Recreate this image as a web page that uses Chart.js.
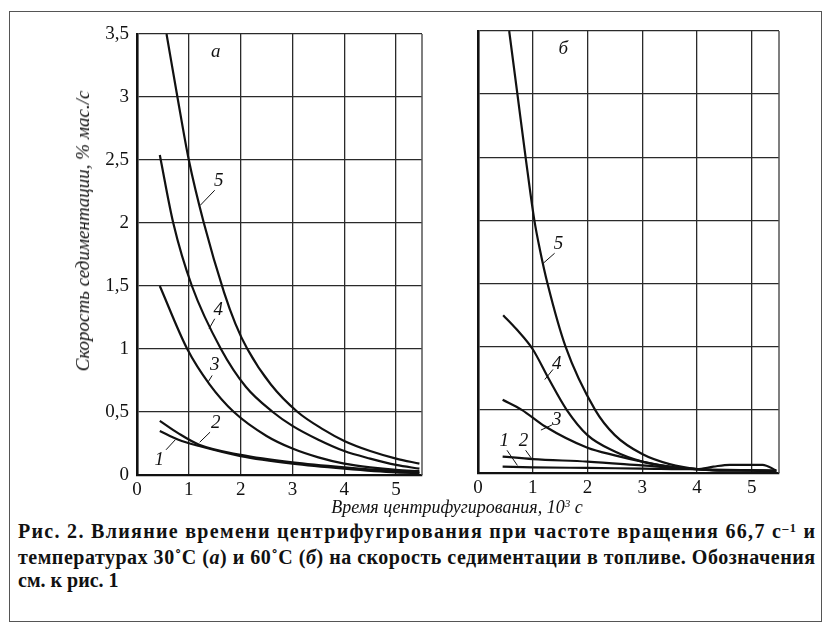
<!DOCTYPE html>
<html>
<head>
<meta charset="utf-8">
<script src="https://cdn.jsdelivr.net/npm/chart.js@4.4.0/dist/chart.umd.min.js"></script>
<style>
  body { margin: 0; width: 830px; height: 625px; background: #fff; position: relative; overflow: hidden; font-family: "Liberation Serif", serif; color: #111; }
  #frame { position: absolute; left: 9px; top: 11px; width: 813px; height: 611px; border: 1.5px solid #555; box-sizing: border-box; }
  .wrap { position: absolute; top: 0; height: 500px; }
  #wrapA { left: 0; width: 450px; }
  #wrapB { left: 450px; width: 380px; }
  #ytitle { position: absolute; left: 83px; top: 231px; transform: translate(-50%, -50%) rotate(-90deg); white-space: nowrap; font-style: italic; font-size: 19px; }
  #xtitle { position: absolute; left: 457px; top: 507px; transform: translate(-50%, -50%); white-space: nowrap; font-style: italic; font-size: 18px; }
  #caption { position: absolute; left: 18px; top: 520px; width: 797px; font-weight: bold; font-size: 20px; line-height: 23px; }
  #caption div { white-space: nowrap; }
  sup { font-size: 0.62em; vertical-align: baseline; position: relative; top: -0.5em; }
</style>
</head>
<body>
<div id="frame"></div>
<div class="wrap" id="wrapA"><canvas id="chartA"></canvas></div>
<div class="wrap" id="wrapB"><canvas id="chartB"></canvas></div>
<div id="ytitle">Скорость седиментации, % мас./с</div>
<div id="xtitle">Время центрифугирования, 10<sup>3</sup> с</div>
<div id="caption">
  <div class="fit"><span>Рис. 2. Влияние времени центрифугирования при частоте вращения 66,7 с<sup>–1</sup> и</span></div>
  <div class="fit"><span>температурах 30˚С (<i>а</i>) и 60˚С (<i>б</i>) на скорость седиментации в топливе. Обозначения</span></div>
  <div><span>см. к рис. 1</span></div>
</div>
<script>
// Панель а (30 °C): время, 10^3 с и скорость, % мас./с
const a5x = [0.57, 0.78, 1.0, 1.29, 1.68, 1.9, 2.13, 2.58, 3.1, 3.6, 4.0, 4.5, 5.0, 5.45];
const a5y = [3.5, 3.0, 2.5, 2.0, 1.45, 1.2, 1.0, 0.72, 0.5, 0.36, 0.27, 0.19, 0.13, 0.09];
const a4x = [0.44, 0.7, 1.06, 1.62, 2.1, 2.62, 3.0, 3.5, 4.0, 4.5, 5.0, 5.45];
const a4y = [2.54, 2.0, 1.5, 1.0, 0.7, 0.5, 0.39, 0.28, 0.19, 0.13, 0.08, 0.05];
const a3x = [0.44, 0.97, 1.4, 1.87, 2.5, 3.0, 3.5, 4.0, 4.5, 5.0, 5.45];
const a3y = [1.5, 1.0, 0.72, 0.5, 0.31, 0.21, 0.14, 0.09, 0.06, 0.04, 0.03];
const a2x = [0.44, 0.8, 1.2, 2.0, 3.0, 4.0, 5.0, 5.45];
const a2y = [0.43, 0.33, 0.24, 0.16, 0.1, 0.06, 0.03, 0.02];
const a1x = [0.44, 0.8, 1.2, 2.0, 3.0, 4.0, 5.0, 5.45];
const a1y = [0.35, 0.28, 0.23, 0.15, 0.09, 0.05, 0.02, 0.015];

// Панель б (60 °C)
const b5x = [0.57, 0.72, 0.87, 1.03, 1.14, 1.27, 1.6, 2.14, 2.5, 3.0, 3.5, 4.0, 4.5, 5.0, 5.45];
const b5y = [3.5, 3.0, 2.5, 2.0, 1.75, 1.5, 1.0, 0.5, 0.3, 0.15, 0.07, 0.03, 0.02, 0.02, 0.02];
const b4x = [0.46, 0.7, 1.0, 1.3, 1.62, 2.0, 2.5, 3.0, 3.5, 4.0, 4.5, 5.0, 5.45];
const b4y = [1.25, 1.14, 0.98, 0.74, 0.5, 0.3, 0.17, 0.09, 0.05, 0.03, 0.02, 0.02, 0.015];
const b3x = [0.45, 0.8, 1.22, 2.0, 2.5, 3.0, 3.5, 4.0, 4.5, 5.0, 5.45];
const b3y = [0.58, 0.5, 0.37, 0.2, 0.14, 0.09, 0.05, 0.03, 0.02, 0.02, 0.015];
const b2x = [0.45, 1.0, 2.0, 3.0, 4.0, 5.0, 5.45];
const b2y = [0.13, 0.11, 0.09, 0.06, 0.03, 0.02, 0.01];
const b1x = [0.45, 1.0, 2.0, 3.0, 4.0, 4.3, 4.6, 5.2, 5.45];
const b1y = [0.05, 0.045, 0.04, 0.035, 0.03, 0.05, 0.065, 0.065, 0.02];

const xTicks = [0, 1, 2, 3, 4, 5];
const yTicks = ["0", "0,5", "1", "1,5", "2", "2,5", "3", "3,5"];

// Номера кривых и выноски (в единицах осей)
const notesA = [
  { t: "5", at: [1.58, 2.33], lead: [1.50, 2.26, 1.22, 2.14] },
  { t: "4", at: [1.57, 1.31], lead: [1.50, 1.24, 1.39, 1.16] },
  { t: "3", at: [1.50, 0.87], lead: [1.45, 0.79, 1.36, 0.73] },
  { t: "2", at: [1.52, 0.41], lead: [1.41, 0.34, 1.21, 0.26] },
  { t: "1", at: [0.43, 0.12], lead: [0.56, 0.20, 0.74, 0.28] },
  { t: "а", at: [1.52, 3.36] }
];
const notesB = [
  { t: "5", at: [1.47, 1.81], lead: [1.40, 1.74, 1.19, 1.66] },
  { t: "4", at: [1.44, 0.86], lead: [1.37, 0.82, 1.22, 0.74] },
  { t: "3", at: [1.44, 0.42], lead: [1.35, 0.38, 1.15, 0.34] },
  { t: "1", at: [0.48, 0.25], lead: [0.53, 0.18, 0.72, 0.06] },
  { t: "2", at: [0.83, 0.25], lead: [0.87, 0.18, 0.97, 0.12] },
  { t: "б", at: [1.56, 3.36] }
];

const pts = (xs, ys) => xs.map((x, i) => ({ x: x, y: ys[i] }));
const curve = (xs, ys) => ({
  data: pts(xs, ys),
  borderColor: "#111",
  borderWidth: 2.2,
  pointRadius: 0,
  fill: false,
  cubicInterpolationMode: "monotone"
});

// рамка справа и подписи кривых
const notesPlugin = {
  id: "notes",
  afterDatasetsDraw(chart, args, opts) {
    const c = chart.ctx, xs = chart.scales.x, ys = chart.scales.y, area = chart.chartArea;
    c.save();
    c.strokeStyle = "#555";
    c.lineWidth = 1.5;
    c.beginPath();
    c.moveTo(area.right, area.top);
    c.lineTo(area.right, area.bottom);
    c.stroke();
    c.fillStyle = "#111";
    c.strokeStyle = "#111";
    c.lineWidth = 1;
    c.font = "italic 19px 'Liberation Serif'";
    c.textAlign = "center";
    c.textBaseline = "middle";
    opts.items.forEach(n => {
      c.fillText(n.t, xs.getPixelForValue(n.at[0]), ys.getPixelForValue(n.at[1]));
      if (n.lead) {
        c.beginPath();
        c.moveTo(xs.getPixelForValue(n.lead[0]), ys.getPixelForValue(n.lead[1]));
        c.lineTo(xs.getPixelForValue(n.lead[2]), ys.getPixelForValue(n.lead[3]));
        c.stroke();
      }
    });
    c.restore();
  }
};

function makeChart(id, sets, notes, cfg) {
  return new Chart(document.getElementById(id), {
    type: "line",
    data: { datasets: sets },
    options: {
      responsive: true,
      maintainAspectRatio: false,
      animation: false,
      events: [],
      layout: { padding: { left: 0, top: cfg.top, right: cfg.right, bottom: 0 } },
      plugins: { legend: { display: false }, tooltip: { enabled: false }, notes: { items: notes } },
      scales: {
        x: {
          type: "linear",
          min: 0,
          max: 5.5,
          afterBuildTicks: s => { s.ticks = xTicks.map(v => ({ value: v })); },
          afterFit: s => { s.height = cfg.xh; },
          ticks: { color: "#111", padding: 4, font: { family: "Liberation Serif", size: 19 }, maxRotation: 0 },
          grid: { color: "#2a2a2a", lineWidth: 1.3, drawTicks: false },
          border: { color: "#111", width: 2.2 }
        },
        y: {
          type: "linear",
          min: 0,
          max: 3.5,
          afterBuildTicks: s => { s.ticks = yTicks.map((t, i) => ({ value: i * 0.5 })); },
          afterFit: s => { s.width = cfg.yw; },
          ticks: {
            display: cfg.yLabels,
            color: "#111",
            padding: 8,
            font: { family: "Liberation Serif", size: 19 },
            callback: (v, i) => yTicks[i]
          },
          grid: { color: "#2a2a2a", lineWidth: 1.3, drawTicks: false },
          border: { color: "#111", width: 2.6 }
        }
      }
    },
    plugins: [notesPlugin]
  });
}

makeChart("chartA",
  [curve(a5x, a5y), curve(a4x, a4y), curve(a3x, a3y), curve(a2x, a2y), curve(a1x, a1y)],
  notesA, { top: 34, right: 28, xh: 25, yw: 137, yLabels: true });

makeChart("chartB",
  [curve(b5x, b5y), curve(b4x, b4y), curve(b3x, b3y), curve(b2x, b2y), curve(b1x, b1y)],
  notesB, { top: 31, right: 51, xh: 27, yw: 28, yLabels: false });

// растягиваем строки подписи на всю ширину, как в наборе
document.querySelectorAll("#caption .fit span").forEach(sp => {
  const w = sp.getBoundingClientRect().width;
  const n = sp.textContent.length;
  sp.style.letterSpacing = ((797 - w) / (n - 1)).toFixed(3) + "px";
});
</script>
</body>
</html>
